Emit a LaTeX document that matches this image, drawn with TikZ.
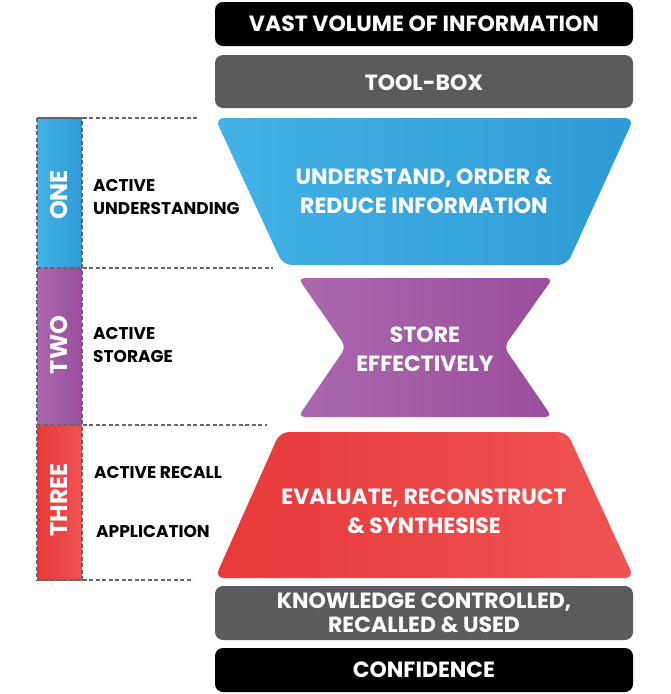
\documentclass[tikz,border=0pt]{standalone}
\usepackage{fontspec}
\setmainfont{Poppins}
\definecolor{bluel}{HTML}{43B2E6}
\definecolor{bluer}{HTML}{2E9AD5}
\definecolor{purl}{HTML}{AB68AE}
\definecolor{purr}{HTML}{9A4E9D}
\definecolor{redl}{HTML}{E7393A}
\definecolor{redr}{HTML}{EF5353}
\definecolor{boxgray}{HTML}{5B5B5D}
\definecolor{dashgray}{HTML}{666666}
\tikzset{
  blackbox/.style={fill=black, rounded corners=8pt},
  graybox/.style={fill=boxgray, rounded corners=8pt},
  wtext/.style={text=white, font=\bfseries\fontsize{22}{29}\selectfont, align=center, inner sep=0pt},
  ltext/.style={text=black, font=\bfseries\fontsize{17}{23}\selectfont, align=left, anchor=west, inner sep=0pt},
  bartext/.style={text=white, font=\bfseries\fontsize{24}{26}\selectfont, rotate=90, inner sep=0pt},
  dashline/.style={draw=dashgray, line width=2.5pt, dash pattern=on 4pt off 2.5pt},
}
\begin{document}
\begin{tikzpicture}[x=1pt,y=-1pt]
\useasboundingbox (0,0) rectangle (670,694);
% top and bottom boxes
\fill[blackbox] (215,2) rectangle (633,46);
\node[wtext] (vast) at (424,24) {VAST VOLUME OF INFORMATION};
\fill[graybox] (215,55) rectangle (633,108);
\node[wtext] (tool) at (424,83) {TOOL-BOX};
\fill[graybox] (215,586) rectangle (633,640);
\node[wtext, font=\bfseries\fontsize{22}{24}\selectfont] (know) at (424,613) {KNOWLEDGE CONTROLLED,\\RECALLED \& USED};
\fill[blackbox] (215,648) rectangle (633,692);
\node[wtext] (conf) at (424,670) {CONFIDENCE};
% funnel shapes
\path[rounded corners=9pt, left color=bluel, right color=bluer]
  (215,118) -- (634,118) -- (567,265) -- (283,265) -- cycle;
\node[wtext] (one) at (424,191) {UNDERSTAND, ORDER \&\\REDUCE INFORMATION};
\path[rounded corners=7pt, left color=purl, right color=purr]
  (298,278) -- (553,278) -- (504,347) -- (552,417) -- (298,417) -- (346,347) -- cycle;
\node[wtext] (two) at (425,349) {STORE\\EFFECTIVELY};
\path[rounded corners=9pt, left color=redl, right color=redr]
  (280,432) -- (567,432) -- (634,578) -- (215,578) -- cycle;
\node[wtext] (three) at (424,511) {EVALUATE, RECONSTRUCT\\\& SYNTHESISE};
% left column bars
\path[left color=bluel, right color=bluer] (37,118) rectangle (82,268);
\path[left color=purl, right color=purr] (37,268) rectangle (82,425);
\path[left color=redl, right color=redr] (37,425) rectangle (82,580);
\node[bartext] (b1) at (59.5,195) {ONE};
\node[bartext] (b2) at (59.5,345) {TWO};
\node[bartext] (b3) at (59.5,500) {THREE};
% dashed lines
\draw[dashline] (37,118) rectangle (82,580);
\draw[dashline] (37,118) -- (197,118);
\draw[dashline] (37,268) -- (273,268);
\draw[dashline] (37,425) -- (267,425);
\draw[dashline] (37,580) -- (193,580);
% labels
\node[ltext] (l1) at (93,197) {ACTIVE\\UNDERSTANDING};
\node[ltext] (l2) at (93,345) {ACTIVE\\STORAGE};
\node[ltext] (l3) at (94,473) {ACTIVE RECALL};
\node[ltext] (l4) at (96,531) {APPLICATION};
\end{tikzpicture}
\end{document}
